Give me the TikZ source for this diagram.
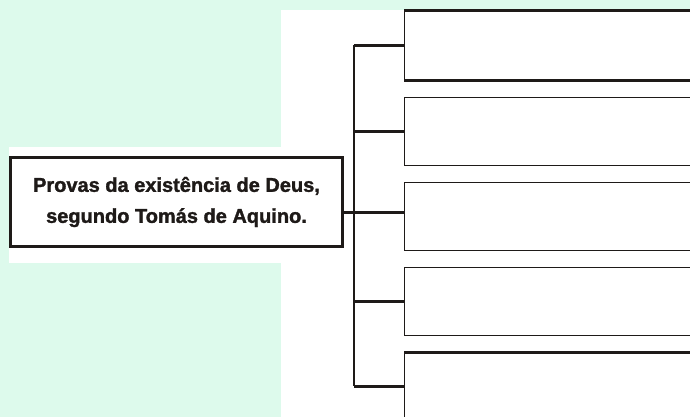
\documentclass[tikz,border=0pt]{standalone}
\usepackage{fontspec}
\setmainfont{Liberation Sans}
\definecolor{mint}{RGB}{221,250,236}
\definecolor{ink}{RGB}{30,26,24}
\begin{document}
\begin{tikzpicture}[x=1pt,y=-1pt,
  rootbox/.style={draw=ink,line width=2.2pt,fill=white,minimum width=332pt,minimum height=89pt,inner sep=0pt,align=center,text=ink,font=\fontsize{20}{31}\selectfont\bfseries},
  leafbox/.style={draw=ink,line width=1.3pt,fill=white,minimum width=330pt,minimum height=68pt,anchor=north west,inner sep=0pt},
  stub/.style={draw=ink,line width=3pt},
  spine/.style={draw=ink,line width=1.3pt},
  heavy/.style={draw=ink,line width=3pt}]
\useasboundingbox (0,0) rectangle (690,417);
\clip (0,0) rectangle (690,417);
\fill[mint] (0,0) rectangle (690,417);
\fill[white] (281,10) rectangle (690,417);
\fill[white] (9,147) rectangle (281,263);
\node[rootbox] (root) at (176.5,202) {\addfontfeature{FakeBold=1.5}Provas da existência de Deus,\\\addfontfeature{FakeBold=1.5}segundo Tomás de Aquino.};
\node[leafbox] (b1) at (404,11) {};
\node[leafbox] (b2) at (404,97) {};
\node[leafbox] (b3) at (404,182) {};
\node[leafbox] (b4) at (404,267) {};
\node[leafbox] (b5) at (404,352) {};
\draw[heavy] (b1.north west) -- (b1.north east);
\draw[heavy] (b1.south west) -- (b1.south east);
\draw[heavy] (b5.north west) -- (b5.north east);
\coordinate (s1) at (354,45);
\coordinate (s5) at (354,386);
\coordinate (m3) at (404,212);
\draw[spine] (s1) -- (s5);
\draw[stub] (s1 |- b1.west) -- (b1.west);
\draw[stub] (s1 |- b2.west) -- (b2.west);
\draw[stub] (root.east |- m3) -- (m3);
\draw[stub] (s1 |- b4.west) -- (b4.west);
\draw[stub] (s1 |- b5.west) -- (b5.west);
\end{tikzpicture}
\end{document}
